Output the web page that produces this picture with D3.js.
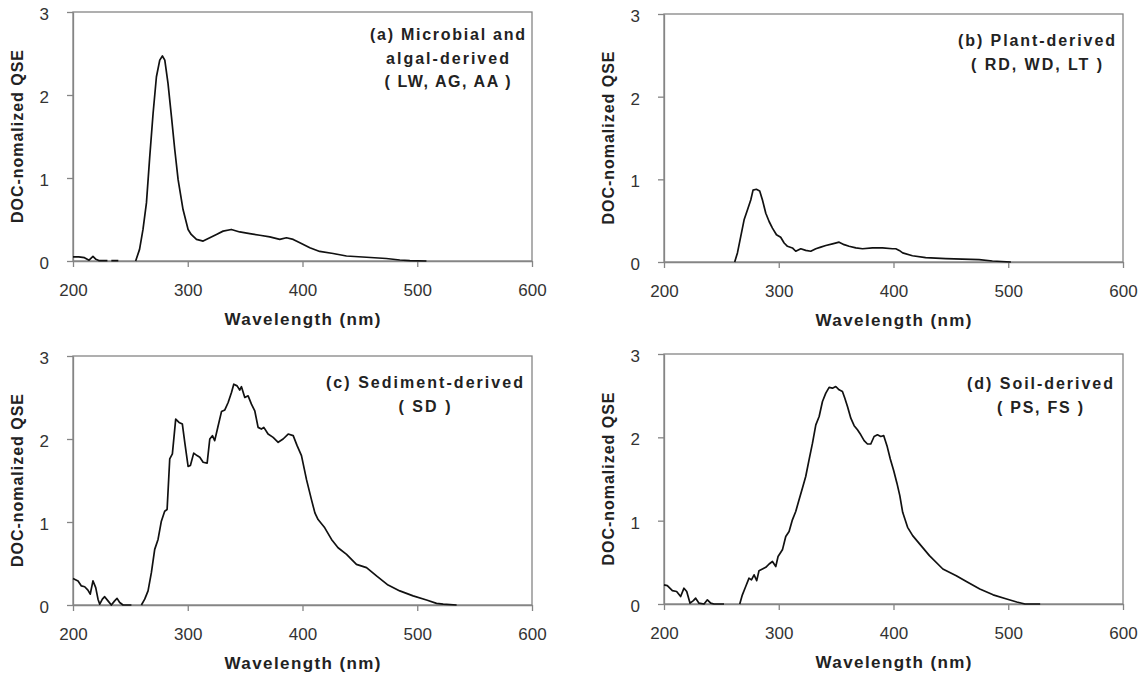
<!DOCTYPE html>
<html>
<head>
<meta charset="utf-8">
<script src="https://cdn.jsdelivr.net/npm/d3@7"></script>
<style>
  html, body { margin: 0; padding: 0; background: #fff; }
  svg { display: block; }
  text { font-family: "Liberation Sans", Arial, sans-serif; }
</style>
</head>
<body>
<svg id="chart" width="1144" height="673"></svg>
<script>
// ---------------- DATA ----------------
const xTicks = [200, 300, 400, 500, 600];
const yTicks = [0, 1, 2, 3];
const xTitle = "Wavelength (nm)";
const yTitle = "DOC-nomalized QSE";
const titlesA = ["(a) Microbial and", "algal-derived", "( LW, AG, AA )"];
const titlesB = ["(b) Plant-derived", "( RD, WD, LT )"];
const titlesC = ["(c) Sediment-derived", "( SD )"];
const titlesD = ["(d) Soil-derived", "( PS, FS )"];

// (a) Microbial and algal-derived  (null = gap in the trace)
const wlA  = [200, 205, 210, 214, 217.4, 220, 222.5, 230, 231.5, 233.4, 239.5, 247,
              254.6, 258, 261, 264, 266.9, 269.8, 272.7, 275.6, 277.9, 280, 282.8, 285.8, 288.7, 291.6,
              295.9, 300.3, 303, 307.6, 313.4, 319.2, 325, 330.8, 338, 345.3, 354, 362.8, 371.5, 380.2,
              386, 391.9, 397.7, 406.4, 415, 426.7, 438.3, 455.8, 473, 484.8, 493.5, 508];
const qseA = [0.05, 0.05, 0.04, 0.01, 0.055, 0.02, 0.005, 0.005, null, 0.005, 0.005, null,
              0, 0.14, 0.38, 0.70, 1.26, 1.78, 2.22, 2.42, 2.47, 2.42, 2.14, 1.74, 1.34, 0.98,
              0.62, 0.38, 0.32, 0.26, 0.24, 0.28, 0.32, 0.36, 0.38, 0.35, 0.33, 0.31, 0.29, 0.26,
              0.28, 0.26, 0.22, 0.16, 0.115, 0.09, 0.06, 0.045, 0.03, 0.012, 0.005, 0];

// (b) Plant-derived
const wlB  = [261.6, 264, 266.9, 269.8, 272.7, 275.6, 277.6, 280.5, 283.4, 285.8, 288.7, 291.6,
              294.5, 298, 301.7, 304.7, 307.6, 311.9, 314.8, 319.2, 323.5, 327.9, 332.3, 336.6,
              341, 346.8, 352.6, 357, 361.3, 367.2, 373, 381.7, 390.4, 399.1, 402, 405, 408,
              416.5, 428, 445.6, 474.6, 486.2, 502.3];
const qseB = [0, 0.11, 0.31, 0.51, 0.63, 0.75, 0.87, 0.88, 0.86, 0.75, 0.59, 0.49,
              0.41, 0.33, 0.30, 0.23, 0.19, 0.17, 0.13, 0.16, 0.14, 0.13, 0.16, 0.18,
              0.20, 0.22, 0.24, 0.21, 0.19, 0.17, 0.16, 0.17, 0.17, 0.16, 0.16, 0.14, 0.11,
              0.076, 0.052, 0.04, 0.028, 0.012, 0];

// (c) Sediment-derived
const wlC  = [200, 204.4, 207.3, 210.2, 213, 215, 217.4, 219.8, 221.8, 223.3, 225.6, 227.6,
              230.5, 233.4, 236.3, 238.4, 240.7, 243.6, 250.9, 255, 259.6, 262.5, 265.4, 268.3,
              271.2, 274.1, 277, 279.9, 282, 284.3, 286.6, 289.5, 292.4, 295.3, 297.4, 300.3,
              302.3, 305.2, 308.1, 310.5, 313.4, 316.9, 319.2, 321.5, 323.5, 326.5, 329.4, 332.3,
              335.2, 338.1, 340.1, 343, 345.3, 346.8, 349.7, 352.6, 355.5, 358.4, 361.3, 364.2,
              366.3, 370, 374.4, 378.8, 383.1, 387.5, 391.9, 395.3, 399.1, 403.5, 407.8, 410.8,
              413.6, 419.4, 425.3, 431, 438.4, 447, 455.8, 464.5, 474.6, 484.8, 496.4, 508.1,
              516.8, 522.6, 534.3];
const qseC = [0.32, 0.29, 0.23, 0.22, 0.18, 0.13, 0.29, 0.21, 0.07, 0.01, 0.07, 0.10,
              0.05, 0, 0.05, 0.08, 0.03, 0, 0, null, 0, 0.07, 0.17, 0.39,
              0.67, 0.79, 1.01, 1.13, 1.15, 1.76, 1.82, 2.24, 2.20, 2.18, 1.96, 1.67,
              1.68, 1.83, 1.80, 1.78, 1.72, 1.71, 2.00, 2.04, 1.98, 2.16, 2.33, 2.35,
              2.44, 2.56, 2.66, 2.64, 2.59, 2.63, 2.50, 2.52, 2.42, 2.34, 2.14, 2.12,
              2.14, 2.06, 2.02, 1.96, 2.00, 2.06, 2.04, 1.92, 1.80, 1.51, 1.27, 1.11,
              1.03, 0.93, 0.79, 0.69, 0.61, 0.49, 0.45, 0.35, 0.24, 0.17, 0.11, 0.06,
              0.02, 0.01, 0];

// (d) Soil-derived
const wlD  = [200, 202.9, 207.3, 211, 214.5, 217.4, 219.8, 222.7, 225.6, 227.6, 230.5, 234.9,
              237.8, 240.7, 243.6, 252.3, 259, 266, 268.3, 271.2, 274.1, 276.2, 278.5, 280.8,
              282.8, 285.8, 288.7, 291.6, 294.5, 297.4, 299.4, 303.2, 306.1, 309, 311.9, 314.8,
              317.7, 320.6, 323.5, 326.4, 329.4, 332.3, 335.2, 338.1, 341, 343.9, 346.8, 349.7,
              352.6, 355.5, 357.6, 359.9, 362.8, 365.7, 368.6, 371.5, 374.4, 377.3, 380.2, 383.1,
              386, 388.9, 391.5, 394.3, 397.2, 400.2, 403, 405.5, 408, 412.3, 416.7, 424,
              431.3, 443, 454.7, 463.5, 475.2, 486.8, 498.6, 507.4, 514.6, 527.8];
const qseD = [0.23, 0.22, 0.16, 0.15, 0.09, 0.19, 0.15, 0.01, 0.04, 0.07, 0.01, 0,
              0.05, 0.01, 0, 0, null, 0, 0.11, 0.21, 0.31, 0.29, 0.35, 0.28,
              0.40, 0.42, 0.44, 0.48, 0.51, 0.45, 0.57, 0.65, 0.81, 0.87, 1.01, 1.11,
              1.25, 1.39, 1.53, 1.73, 1.93, 2.15, 2.25, 2.43, 2.53, 2.60, 2.59, 2.61,
              2.57, 2.55, 2.47, 2.37, 2.23, 2.14, 2.09, 2.03, 1.96, 1.92, 1.92, 2.01,
              2.03, 2.01, 2.02, 1.90, 1.74, 1.60, 1.45, 1.30, 1.10, 0.92, 0.82, 0.70,
              0.58, 0.42, 0.34, 0.27, 0.18, 0.11, 0.06, 0.024, 0, 0];

// ---------------- LAYOUT ----------------
const panels = [
  { wl: wlA, v: qseA, titles: titlesA, x0: 73,  x1: 532,  y0: 12,  y1: 261,
    tcx: 447.5, tb: 40, tl: [155, 123, 126] },
  { wl: wlB, v: qseB, titles: titlesB, x0: 664, x1: 1123, y0: 14,  y1: 262,
    tcx: 1036.5, tb: 46, tl: [157, 131] },
  { wl: wlC, v: qseC, titles: titlesC, x0: 73,  x1: 532,  y0: 356, y1: 605,
    tcx: 424.5, tb: 388, tl: [197, 52] },
  { wl: wlD, v: qseD, titles: titlesD, x0: 664, x1: 1123, y0: 354, y1: 604,
    tcx: 1040, tb: 389, tl: [146, 86] }
];

const svg = d3.select("#chart");
const axisColor = "#858585";
const labelColor = "#333";

panels.forEach(p => {
  const x = d3.scaleLinear().domain([200, 600]).range([p.x0, p.x1]);
  const y = d3.scaleLinear().domain([0, 3]).range([p.y1, p.y0]);
  const g = svg.append("g");

  // frame
  g.append("rect")
    .attr("x", p.x0).attr("y", p.y0)
    .attr("width", p.x1 - p.x0).attr("height", p.y1 - p.y0)
    .attr("fill", "none").attr("stroke", axisColor).attr("stroke-width", 1.3);

  // x axis
  const xa = g.append("g").attr("transform", `translate(0,${p.y1})`)
    .call(d3.axisBottom(x).tickValues(xTicks).tickFormat(d3.format("d"))
      .tickSize(6).tickSizeOuter(0).tickPadding(17));
  // y axis
  const ya = g.append("g").attr("transform", `translate(${p.x0},0)`)
    .call(d3.axisLeft(y).tickValues(yTicks).tickFormat(d3.format("d"))
      .tickSize(6).tickSizeOuter(0).tickPadding(18));
  [xa, ya].forEach(a => {
    a.select(".domain").attr("stroke", axisColor).attr("stroke-width", 1.3);
    a.selectAll(".tick line").attr("stroke", axisColor).attr("stroke-width", 1.3);
    a.selectAll(".tick text").attr("fill", labelColor)
      .style("font-size", "17px").style("font-family", '"Liberation Sans", Arial, sans-serif');
  });
  ya.selectAll(".tick text").attr("dy", "0.45em");

  // axis titles
  g.append("text")
    .attr("x", (p.x0 + p.x1) / 2).attr("y", p.y1 + 64)
    .attr("text-anchor", "middle")
    .attr("textLength", 156).attr("lengthAdjust", "spacing")
    .style("font-size", "17px").style("font-weight", "bold").attr("fill", "#222")
    .text(xTitle);
  g.append("text")
    .attr("transform", `translate(${p.x0 - 50},${(p.y0 + p.y1) / 2}) rotate(-90)`)
    .attr("text-anchor", "middle")
    .attr("textLength", 173).attr("lengthAdjust", "spacing")
    .style("font-size", "16px").style("font-weight", "bold").attr("fill", "#222")
    .text(yTitle);

  // panel titles
  p.titles.forEach((t, i) => {
    g.append("text")
      .attr("x", p.tcx).attr("y", p.tb + i * 23.5)
      .attr("text-anchor", "middle")
      .attr("textLength", p.tl[i]).attr("lengthAdjust", "spacing")
      .style("font-size", "16px").style("font-weight", "bold").attr("fill", "#222")
      .text(t);
  });

  // curve
  const pts = p.wl.map((w, i) => [w, p.v[i]]);
  const line = d3.line()
    .defined(d => d[1] !== null)
    .x(d => x(d[0])).y(d => y(d[1]));
  g.append("path")
    .datum(pts)
    .attr("d", line)
    .attr("fill", "none").attr("stroke", "#111").attr("stroke-width", 1.7)
    .attr("stroke-linejoin", "round");
});
</script>
</body>
</html>
